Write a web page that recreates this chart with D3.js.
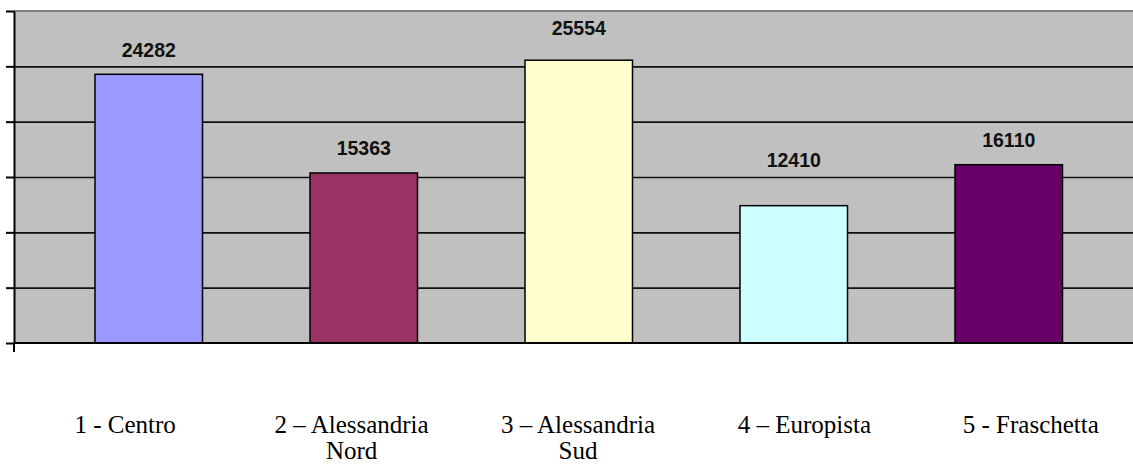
<!DOCTYPE html>
<html>
<head>
<meta charset="utf-8">
<script src="https://cdn.jsdelivr.net/npm/d3@7"></script>
<style>
  body { margin: 0; background: #fff; }
  svg { display: block; }
</style>
</head>
<body>
<script>
// Data
const categories = ["1 - Centro", "2 – Alessandria Nord", "3 – Alessandria Sud", "4 – Europista", "5 - Fraschetta"];
const values = [24282, 15363, 25554, 12410, 16110];
const barColors = ["#9999FF", "#993366", "#FFFFCC", "#CCFFFF", "#660066"];
const yTicks = [0, 5000, 10000, 15000, 20000, 25000, 30000];

// label lift above bar top (px), labels were moved by hand in the original
const labelGap = [17, 18, 25, 39, 18];

const W = 1133, H = 464;
const plot = { left: 14, top: 11, right: 1144, bottom: 343 };

const svg = d3.select("body").append("svg")
  .attr("width", W)
  .attr("height", H);

// Scales
const y = d3.scaleLinear().domain([0, 30000]).range([plot.bottom, plot.top]);

const xBar = d3.scaleBand()
  .domain(categories)
  .range([41.25, 1116.25])
  .paddingInner(0.5)
  .paddingOuter(0.25);

const xLabel = d3.scaleBand()
  .domain(categories)
  .range([12, 1144]);

// Plot area background
svg.append("rect")
  .attr("x", plot.left)
  .attr("y", plot.top)
  .attr("width", plot.right - plot.left)
  .attr("height", plot.bottom - plot.top)
  .attr("fill", "#C0C0C0");

// top border
svg.append("line")
  .attr("x1", plot.left).attr("x2", W)
  .attr("y1", plot.top).attr("y2", plot.top)
  .attr("stroke", "#7f7f7f")
  .attr("stroke-width", 2);

// Gridlines
const grid = svg.append("g")
  .attr("transform", `translate(${plot.left},0)`)
  .call(d3.axisLeft(y).tickValues(yTicks.slice(1, -1)).tickSize(-(W - plot.left)).tickFormat(""));
grid.select(".domain").remove();
grid.selectAll("line").attr("stroke", "#111").attr("stroke-width", 1.6);

// Bars
svg.selectAll("rect.bar")
  .data(values)
  .enter()
  .append("rect")
  .attr("class", "bar")
  .attr("x", (d, i) => xBar(categories[i]))
  .attr("y", (d) => y(d))
  .attr("width", xBar.bandwidth())
  .attr("height", (d) => y(0) - y(d))
  .attr("fill", (d, i) => barColors[i])
  .attr("stroke", "#000")
  .attr("stroke-width", 1.5);

// Value labels
svg.selectAll("text.val")
  .data(values)
  .enter()
  .append("text")
  .attr("class", "val")
  .attr("x", (d, i) => xBar(categories[i]) + xBar.bandwidth() / 2)
  .attr("y", (d, i) => y(d) - labelGap[i])
  .attr("text-anchor", "middle")
  .attr("font-family", "Liberation Sans, Arial, sans-serif")
  .attr("font-weight", "bold")
  .attr("font-size", "19.5px")
  .attr("fill", "#111")
  .text((d) => d);

// Baseline
svg.append("line")
  .attr("x1", plot.left).attr("x2", W)
  .attr("y1", plot.bottom).attr("y2", plot.bottom)
  .attr("stroke", "#000")
  .attr("stroke-width", 2);

// Left axis with outside ticks
const yAxis = svg.append("g")
  .attr("transform", `translate(${plot.left},0)`)
  .call(d3.axisLeft(y).tickValues(yTicks).tickSize(8).tickSizeOuter(0).tickFormat(""));
yAxis.select(".domain").attr("stroke", "#000").attr("stroke-width", 2);
yAxis.selectAll(".tick line").attr("stroke", "#000").attr("stroke-width", 2);

// small tick below the baseline at the left corner
svg.append("line")
  .attr("x1", plot.left).attr("x2", plot.left)
  .attr("y1", plot.bottom).attr("y2", plot.bottom + 9)
  .attr("stroke", "#000")
  .attr("stroke-width", 2);

// Category labels, wrapped
const catText = svg.selectAll("text.cat")
  .data(categories)
  .enter()
  .append("text")
  .attr("class", "cat")
  .attr("x", (d) => xLabel(d) + xLabel.bandwidth() / 2)
  .attr("y", 433)
  .attr("text-anchor", "middle")
  .attr("font-family", "Liberation Serif, Times New Roman, serif")
  .attr("font-size", "25px")
  .attr("fill", "#000");

catText.each(function (d) {
  const t = d3.select(this);
  const cx = t.attr("x");
  const words = d.split(" ");
  let line = [];
  let tspan = t.append("tspan").attr("x", cx).attr("dy", 0);
  words.forEach((w) => {
    line.push(w);
    tspan.text(line.join(" "));
    if (tspan.node().getComputedTextLength() > 180 && line.length > 1) {
      line.pop();
      tspan.text(line.join(" "));
      line = [w];
      tspan = t.append("tspan").attr("x", cx).attr("dy", 26).text(w);
    }
  });
});
</script>
</body>
</html>
